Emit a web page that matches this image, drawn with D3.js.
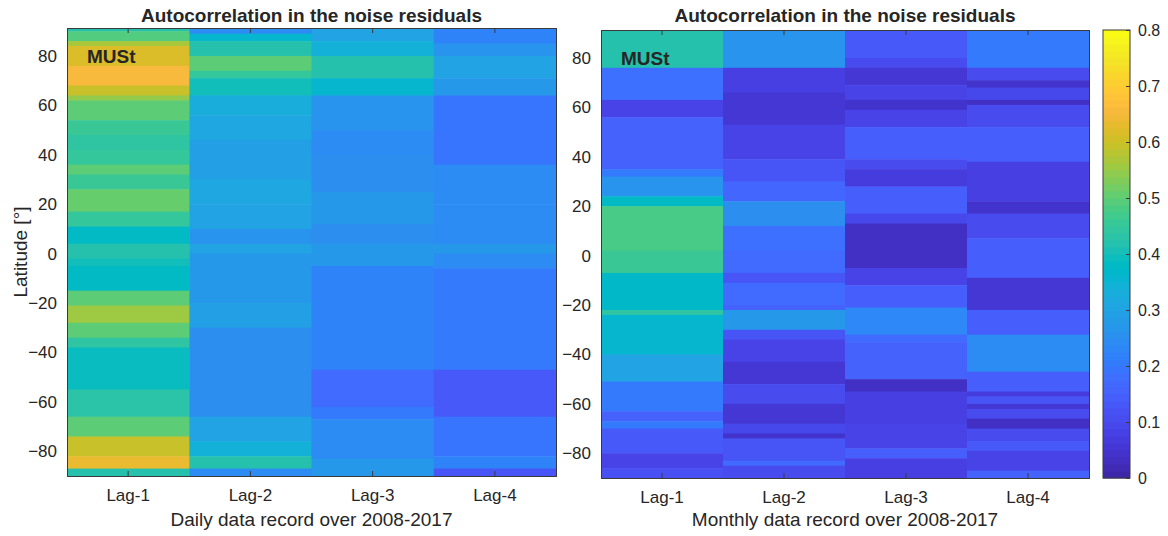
<!DOCTYPE html>
<html>
<head>
<meta charset="utf-8">
<script src="https://cdn.jsdelivr.net/npm/d3@7"></script>
<style>
  body { margin: 0; background: #fff; }
  text { font-family: "Liberation Sans", Arial, sans-serif; fill: #262626; }
</style>
</head>
<body>
<svg id="chart" width="1168" height="536"></svg>
<script>
const lags = ["Lag-1", "Lag-2", "Lag-3", "Lag-4"]
const latTicks = [-80, -60, -40, -20, 0, 20, 40, 60, 80]
const cbTicks = [0, 0.1, 0.2, 0.3, 0.4, 0.5, 0.6, 0.7, 0.8]

// latitude bands: [north edge, south edge, autocorrelation]
const dailyLag1 = [
  [92, 90, 0.42], [90, 86, 0.49], [86, 84, 0.57], [84, 76, 0.62], [76, 68, 0.66],
  [68, 64, 0.60], [64, 62, 0.55], [62, 54, 0.50], [54, 48, 0.46], [48, 42, 0.44],
  [42, 36, 0.45], [36, 32, 0.50], [32, 26, 0.46], [26, 17, 0.51], [17, 11, 0.45],
  [11, 4, 0.38], [4, -2, 0.42], [-2, -5, 0.40], [-5, -15, 0.38], [-15, -21, 0.50],
  [-21, -28, 0.56], [-28, -34, 0.50], [-34, -38, 0.44], [-38, -55, 0.39], [-55, -66, 0.43],
  [-66, -74, 0.50], [-74, -82, 0.60], [-82, -87, 0.64], [-87, -91, 0.42]
]
const dailyLag2 = [
  [92, 89, 0.24], [89, 86, 0.36], [86, 80, 0.42], [80, 74, 0.50], [74, 71, 0.45],
  [71, 64, 0.40], [64, 56, 0.33], [56, 46, 0.31], [46, 30, 0.29], [30, 20, 0.31],
  [20, 10, 0.30], [10, 4, 0.26], [4, 0, 0.30], [0, -20, 0.27], [-20, -30, 0.29],
  [-30, -66, 0.25], [-66, -76, 0.30], [-76, -82, 0.34], [-82, -87, 0.42], [-87, -91, 0.24]
]
const dailyLag3 = [
  [92, 86, 0.30], [86, 80, 0.34], [80, 71, 0.42], [71, 64, 0.36], [64, 50, 0.26],
  [50, 40, 0.24], [40, 25, 0.25], [25, 12, 0.27], [12, 4, 0.25], [4, -5, 0.27],
  [-5, -47, 0.22], [-47, -62, 0.17], [-62, -67, 0.20], [-67, -83, 0.24], [-83, -91, 0.27]
]
const dailyLag4 = [
  [92, 85, 0.22], [85, 80, 0.26], [80, 71, 0.30], [71, 64, 0.27], [64, 36, 0.19],
  [36, 20, 0.24], [20, 4, 0.24], [4, 0, 0.27], [0, -6, 0.24], [-6, -47, 0.20],
  [-47, -66, 0.13], [-66, -82, 0.19], [-82, -87, 0.22], [-87, -91, 0.12]
]
const monthlyLag1 = [
  [92, 76, 0.42], [76, 63, 0.18], [63, 56, 0.08], [56, 35, 0.15], [35, 32, 0.20],
  [32, 24, 0.26], [24, 20, 0.38], [20, 2, 0.48], [2, -7, 0.46], [-7, -22, 0.37],
  [-22, -24, 0.44], [-24, -40, 0.36], [-40, -51, 0.30], [-51, -63, 0.20], [-63, -67, 0.15],
  [-67, -70, 0.20], [-70, -80, 0.13], [-80, -86, 0.08], [-86, -91, 0.11]
]
const monthlyLag2 = [
  [92, 76, 0.26], [76, 66, 0.07], [66, 53, 0.05], [53, 39, 0.08], [39, 30, 0.12],
  [30, 22, 0.16], [22, 12, 0.25], [12, 2, 0.18], [2, -7, 0.17], [-7, -11, 0.12],
  [-11, -20, 0.17], [-20, -22, 0.15], [-22, -30, 0.27], [-30, -34, 0.12], [-34, -43, 0.08],
  [-43, -52, 0.05], [-52, -60, 0.10], [-60, -68, 0.05], [-68, -72, 0.09], [-72, -74, 0.04],
  [-74, -83, 0.12], [-83, -85, 0.17], [-85, -91, 0.10]
]
const monthlyLag3 = [
  [92, 80, 0.13], [80, 76, 0.10], [76, 69, 0.05], [69, 63, 0.08], [63, 59, 0.04],
  [59, 52, 0.08], [52, 39, 0.14], [39, 35, 0.10], [35, 28, 0.06], [28, 17, 0.14],
  [17, 13, 0.09], [13, -5, 0.03], [-5, -12, 0.08], [-12, -21, 0.14], [-21, -32, 0.23],
  [-32, -35, 0.17], [-35, -50, 0.15], [-50, -55, 0.03], [-55, -68, 0.07], [-68, -78, 0.08],
  [-78, -82, 0.14], [-82, -91, 0.07]
]
const monthlyLag4 = [
  [92, 76, 0.20], [76, 71, 0.10], [71, 68, 0.04], [68, 63, 0.09], [63, 61, 0.03],
  [61, 52, 0.10], [52, 38, 0.14], [38, 22, 0.07], [22, 17, 0.04], [17, 7, 0.10],
  [7, -9, 0.14], [-9, -22, 0.05], [-22, -32, 0.14], [-32, -47, 0.24], [-47, -55, 0.14],
  [-55, -57, 0.06], [-57, -60, 0.12], [-60, -62, 0.05], [-62, -66, 0.10], [-66, -70, 0.03],
  [-70, -75, 0.10], [-75, -79, 0.13], [-79, -87, 0.08], [-87, -91, 0.15]
]

// MATLAB parula, 64 entries
const parula = [
  [0.2422,0.1504,0.6603],[0.2504,0.1650,0.7076],[0.2578,0.1818,0.7511],[0.2647,0.1978,0.7952],
  [0.2706,0.2147,0.8364],[0.2751,0.2342,0.8710],[0.2783,0.2559,0.8991],[0.2803,0.2782,0.9221],
  [0.2813,0.3006,0.9414],[0.2810,0.3228,0.9579],[0.2795,0.3447,0.9717],[0.2760,0.3667,0.9829],
  [0.2699,0.3892,0.9906],[0.2602,0.4123,0.9952],[0.2440,0.4358,0.9988],[0.2206,0.4603,0.9973],
  [0.1963,0.4847,0.9892],[0.1834,0.5074,0.9798],[0.1786,0.5289,0.9682],[0.1764,0.5499,0.9520],
  [0.1687,0.5703,0.9359],[0.1540,0.5902,0.9218],[0.1460,0.6091,0.9079],[0.1380,0.6276,0.8973],
  [0.1248,0.6459,0.8883],[0.1113,0.6635,0.8763],[0.0952,0.6798,0.8598],[0.0689,0.6948,0.8394],
  [0.0297,0.7082,0.8163],[0.0036,0.7203,0.7917],[0.0067,0.7312,0.7660],[0.0433,0.7411,0.7394],
  [0.0964,0.7500,0.7120],[0.1408,0.7584,0.6842],[0.1717,0.7670,0.6554],[0.1938,0.7758,0.6251],
  [0.2161,0.7843,0.5923],[0.2470,0.7918,0.5567],[0.2906,0.7973,0.5188],[0.3406,0.8008,0.4789],
  [0.3909,0.8029,0.4354],[0.4456,0.8024,0.3909],[0.5044,0.7993,0.3480],[0.5616,0.7942,0.3045],
  [0.6174,0.7876,0.2612],[0.6720,0.7793,0.2227],[0.7242,0.7698,0.1910],[0.7738,0.7598,0.1646],
  [0.8203,0.7498,0.1535],[0.8634,0.7406,0.1596],[0.9035,0.7330,0.1774],[0.9393,0.7288,0.2100],
  [0.9728,0.7298,0.2394],[0.9956,0.7434,0.2371],[0.9970,0.7659,0.2199],[0.9952,0.7893,0.2028],
  [0.9892,0.8136,0.1885],[0.9786,0.8386,0.1766],[0.9676,0.8639,0.1643],[0.9610,0.8890,0.1537],
  [0.9597,0.9135,0.1423],[0.9628,0.9373,0.1265],[0.9691,0.9606,0.1064],[0.9769,0.9839,0.0805]
].map(c => d3.rgb(c[0] * 255, c[1] * 255, c[2] * 255).formatHex())

const color = d3.scaleSequential(d3.piecewise(d3.interpolateRgb, parula))
  .domain([0, 0.8])
  .clamp(true)

const panels = [
  { left: 67, right: 556, top: 28, bottom: 476, cols: [dailyLag1, dailyLag2, dailyLag3, dailyLag4],
    xlabel: "Daily data record over 2008-2017", ylabel: "Latitude [°]" },
  { left: 601, right: 1089, top: 30, bottom: 478, cols: [monthlyLag1, monthlyLag2, monthlyLag3, monthlyLag4],
    xlabel: "Monthly data record over 2008-2017", ylabel: null }
]

const svg = d3.select("#chart")
const axisColor = "#3a3a3a"

panels.forEach(p => {
  const x = d3.scaleBand().domain(lags).range([p.left, p.right])
  const y = d3.scaleLinear().domain([-90, 91.3]).range([p.bottom, p.top]).clamp(true)
  const g = svg.append("g")

  lags.forEach((lag, i) => {
    g.append("g")
      .selectAll("rect")
      .data(p.cols[i])
      .join("rect")
        .attr("x", x(lag))
        .attr("width", x.bandwidth() + 0.5)
        .attr("y", d => y(d[0]))
        .attr("height", d => y(d[1]) - y(d[0]) + 0.5)
        .attr("fill", d => color(d[2]))
  })

  // axes, ticks pointing inward like MATLAB
  const xb = g.append("g").attr("transform", `translate(0,${p.bottom})`)
    .call(d3.axisBottom(x).tickSize(-5).tickPadding(13))
  const xt = g.append("g").attr("transform", `translate(0,${p.top})`)
    .call(d3.axisTop(x).tickSize(-5).tickFormat(""))
  const yl = g.append("g").attr("transform", `translate(${p.left},0)`)
    .call(d3.axisLeft(y).tickValues(latTicks).tickSize(-5).tickPadding(10))
  const yr = g.append("g").attr("transform", `translate(${p.right},0)`)
    .call(d3.axisRight(y).tickValues(latTicks).tickSize(-5).tickFormat(""))

  ;[xb, xt, yl, yr].forEach(a => {
    a.select(".domain").attr("stroke", axisColor).attr("stroke-width", 1)
    a.selectAll(".tick line").attr("stroke", axisColor)
    a.selectAll(".tick text").attr("font-size", 17).attr("fill", "#262626")
      .style("font-family", '"Liberation Sans", Arial, sans-serif')
  })
  yr.selectAll(".tick line").attr("stroke-opacity", 0)
  yl.selectAll(".tick line").attr("stroke-opacity", 0)

  const cx = (p.left + p.right) / 2
  g.append("text")
    .attr("x", cx).attr("y", 22)
    .attr("text-anchor", "middle")
    .attr("font-size", 19).attr("font-weight", "bold")
    .text("Autocorrelation in the noise residuals")

  g.append("text")
    .attr("x", cx).attr("y", 526)
    .attr("text-anchor", "middle")
    .attr("font-size", 19)
    .text(p.xlabel)

  g.append("text")
    .attr("x", p.left + 20).attr("y", y(80) + 7)
    .attr("font-size", 19).attr("font-weight", "bold")
    .attr("fill", "#111")
    .text("MUSt")

  if (p.ylabel) {
    g.append("text")
      .attr("transform", `translate(27,${(p.top + p.bottom) / 2}) rotate(-90)`)
      .attr("text-anchor", "middle")
      .attr("font-size", 19)
      .text(p.ylabel)
  }
})

// colorbar
const cb = { left: 1103, right: 1130, top: 30, bottom: 478 }
const cy = d3.scaleLinear().domain([0, 0.8]).range([cb.bottom, cb.top])
const cbg = svg.append("g")
cbg.selectAll("rect")
  .data(parula)
  .join("rect")
    .attr("x", cb.left)
    .attr("width", cb.right - cb.left)
    .attr("y", (c, i) => cy(0.8 * (i + 1) / parula.length))
    .attr("height", (cb.bottom - cb.top) / parula.length + 0.5)
    .attr("fill", c => c)
cbg.append("rect")
  .attr("x", cb.left).attr("y", cb.top)
  .attr("width", cb.right - cb.left).attr("height", cb.bottom - cb.top)
  .attr("fill", "none").attr("stroke", axisColor)
const cba = cbg.append("g").attr("transform", `translate(${cb.right},0)`)
  .call(d3.axisRight(cy).tickValues(cbTicks).tickFormat(d3.format("")).tickSize(-4).tickPadding(8))
cba.select(".domain").remove()
cba.selectAll(".tick line").attr("stroke", axisColor)
cba.selectAll(".tick text").attr("font-size", 16).attr("fill", "#262626")
  .style("font-family", '"Liberation Sans", Arial, sans-serif')
</script>
</body>
</html>
